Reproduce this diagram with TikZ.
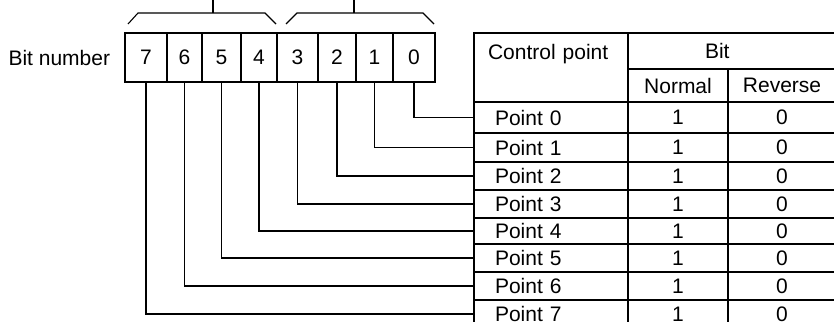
\documentclass[tikz,border=0pt]{standalone}
\usepackage{fontspec}
\setmainfont{Liberation Sans}
\usetikzlibrary{positioning}

\begin{document}
\begin{tikzpicture}[x=0.5pt,y=-0.5pt,font=\fontsize{10.5}{12}\selectfont]
\tikzset{
  bitcell/.style={draw,rectangle,line width=0.55pt,inner sep=0pt,minimum height=24.5pt},
  tabcell/.style={draw,rectangle,line width=0.55pt,inner sep=0pt},
  namecell/.style={tabcell,minimum width=77pt,text width=56pt,inner xsep=10.5pt,align=left},
  normcell/.style={tabcell,minimum width=50pt},
  revcell/.style={tabcell,minimum width=54pt},
  leader/.style={line width=0.55pt},
  bracket/.style={line width=0.55pt}
}
\useasboundingbox (0,0) rectangle (834,321);
\clip (0,0) rectangle (834,321);
% bit register
\node[bitcell,minimum width=21pt] (b7) at (146,57.5) {7};
\node[bitcell,minimum width=17.5pt] (b6) at (184.5,57.5) {6};
\node[bitcell,minimum width=19.5pt] (b5) at (221.5,57.5) {5};
\node[bitcell,minimum width=18pt] (b4) at (259,57.5) {4};
\node[bitcell,minimum width=20.5pt] (b3) at (297.5,57.5) {3};
\node[bitcell,minimum width=19pt] (b2) at (337,57.5) {2};
\node[bitcell,minimum width=18.5pt] (b1) at (374.5,57.5) {1};
\node[bitcell,minimum width=21pt] (b0) at (414,57.5) {0};
\node[left=7pt of b7,inner sep=0pt] (bitlabel) {Bit number};
% brackets over the nibbles
\draw[bracket] (128,24) -- (138,13) -- (265,13) -- (276,24);
\draw[bracket] (213,0) -- (213,13);
\draw[bracket] (286,24) -- (297,13) -- (423,13) -- (434,24);
\draw[bracket] (354,0) -- (354,13);
% table head
\node[tabcell,minimum width=77pt,minimum height=34.5pt,text width=63pt,inner xsep=7pt,align=left,text height=13.2pt,text depth=21.3pt] (hcp) at (551,67.5) {Control point};
\node[tabcell,minimum width=104pt,minimum height=18pt,text width=27pt,inner xsep=38.5pt,align=left] (hbit) at (732,51) {Bit};
\node[normcell,minimum height=16.5pt] (hnorm) at (678,85.5) {Normal};
\node[revcell,minimum height=16.5pt] (hrev) at (782,85.5) {Reverse};
% table rows
\node[namecell,minimum height=15.5pt] (p0) at (551,117.5) {Point 0};
\node[normcell,minimum height=15.5pt] (n0) at (678,117.5) {1};
\node[revcell,minimum height=15.5pt] (r0) at (782,117.5) {0};
\node[namecell,minimum height=14.5pt] (p1) at (551,147.5) {Point 1};
\node[normcell,minimum height=14.5pt] (n1) at (678,147.5) {1};
\node[revcell,minimum height=14.5pt] (r1) at (782,147.5) {0};
\node[namecell,minimum height=14pt] (p2) at (551,176) {Point 2};
\node[normcell,minimum height=14pt] (n2) at (678,176) {1};
\node[revcell,minimum height=14pt] (r2) at (782,176) {0};
\node[namecell,minimum height=14pt] (p3) at (551,204) {Point 3};
\node[normcell,minimum height=14pt] (n3) at (678,204) {1};
\node[revcell,minimum height=14pt] (r3) at (782,204) {0};
\node[namecell,minimum height=13pt] (p4) at (551,231) {Point 4};
\node[normcell,minimum height=13pt] (n4) at (678,231) {1};
\node[revcell,minimum height=13pt] (r4) at (782,231) {0};
\node[namecell,minimum height=14pt] (p5) at (551,258) {Point 5};
\node[normcell,minimum height=14pt] (n5) at (678,258) {1};
\node[revcell,minimum height=14pt] (r5) at (782,258) {0};
\node[namecell,minimum height=14pt] (p6) at (551,286) {Point 6};
\node[normcell,minimum height=14pt] (n6) at (678,286) {1};
\node[revcell,minimum height=14pt] (r6) at (782,286) {0};
\node[namecell,minimum height=14pt] (p7) at (551,314) {Point 7};
\node[normcell,minimum height=14pt] (n7) at (678,314) {1};
\node[revcell,minimum height=14pt] (r7) at (782,314) {0};
% bit to point leaders
\draw[leader] (b0.south) |- (p0.west);
\draw[leader] (b1.south) |- (p1.west);
\draw[leader] (b2.south) |- (p2.west);
\draw[leader] (b3.south) |- (p3.west);
\draw[leader] (b4.south) |- (p4.west);
\draw[leader] (b5.south) |- (p5.west);
\draw[leader] (b6.south) |- (p6.west);
\draw[leader] (b7.south) |- (p7.west);
\end{tikzpicture}
\end{document}
